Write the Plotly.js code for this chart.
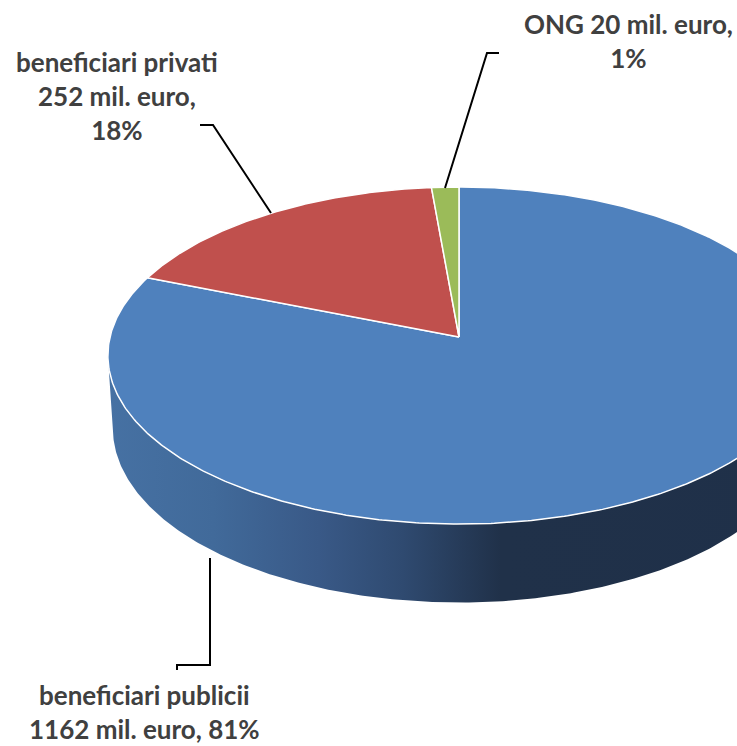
<!DOCTYPE html>
<html><head><meta charset="utf-8">
<script src="https://cdn.plot.ly/plotly-3.0.1.min.js"></script>
<style>html,body{margin:0;padding:0;background:#fff;overflow:hidden}</style>
</head><body><div id="chart" style="width:737px;height:746px"></div>
<script>
// ---- data ----
const categories = ['beneficiari publicii', 'beneficiari privati', 'ONG'];
const values = [1162, 252, 20];
const unit = 'mil. euro';

// ---- style ----
const topColors = ['#4F81BD', '#C0504D', '#9BBB59'];
const sideScales = [
  [[0,'#4671a3'],[0.15,'#416a9a'],[0.3,'#395987'],[0.42,'#2f4a70'],[0.56,'#203149'],[1,'#1f3049']],
  [[0,'#a94441'],[1,'#5e2221']],
  [[0,'#88a64d'],[1,'#4b5d2a']]
];
// 3D projection parameters (pixel space)
const CX = 459, CY = 337, A = 349, B = 166.5, K = 0.110;
const SINPHI = B / A, COSPHI = Math.sqrt(1 - SINPHI * SINPHI), R_D = K / COSPHI, ETA = 0.24;

function proj(thDeg, depth) {
  const t = thDeg * Math.PI / 180, s = Math.sin(t), c = Math.cos(t);
  const h = ETA * depth;
  const den = 1 + K * c + h * R_D * SINPHI;
  return [CX + A * s / den, CY - A * (c * SINPHI - h * COSPHI) / den];
}
function extremeAngle(depth, from, to, sign) {
  let best = from, bx = -Infinity;
  for (let a = from; a <= to; a += 0.05) {
    const x = sign * proj(a, depth)[0];
    if (x > bx) { bx = x; best = a; }
  }
  return best;
}
const tR = extremeAngle(0, 0, 180, 1), tL = extremeAngle(0, 180, 360, -1);
const bR = extremeAngle(1, 0, 180, 1), bL = extremeAngle(1, 180, 360, -1);

const total = values.reduce((a, b) => a + b, 0);
const pct = values.map(v => Math.round(100 * v / total));
const starts = [], ends = [];
let acc = 0;
values.forEach(v => { starts.push(360 * acc / total); acc += v; ends.push(360 * acc / total); });

function arc(a0, a1, depth) {
  const pts = [];
  const n = Math.max(2, Math.ceil(Math.abs(a1 - a0) / 0.5));
  for (let i = 0; i <= n; i++) pts.push(proj(a0 + (a1 - a0) * i / n, depth));
  return pts;
}

const traces = [];
// sides
values.forEach((v, i) => {
  const tLo = Math.max(starts[i], tR), tHi = Math.min(ends[i], tL);
  if (tHi <= tLo) return;
  const bLo = starts[i] > tR ? starts[i] : bR;
  const bHi = ends[i] < tL ? ends[i] : bL;
  const pts = arc(tLo, tHi, 0).concat(arc(bHi, bLo, 1));
  pts.push(pts[0]);
  traces.push({
    type: 'scatter', mode: 'lines', x: pts.map(p => p[0]), y: pts.map(p => p[1]),
    fill: 'toself', line: {width: 0, color: 'rgba(0,0,0,0)'},
    fillgradient: {type: 'horizontal', colorscale: sideScales[i]},
    hoverinfo: 'skip', showlegend: false
  });
});
// top faces
values.forEach((v, i) => {
  const pts = [[CX, CY]].concat(arc(starts[i], ends[i], 0));
  pts.push([CX, CY]);
  traces.push({
    type: 'scatter', mode: 'lines', x: pts.map(p => p[0]), y: pts.map(p => p[1]),
    fill: 'toself', fillcolor: topColors[i], line: {width: 1.5, color: '#ffffff'},
    name: categories[i], text: categories[i] + ': ' + v + ' ' + unit, hoverinfo: 'text', showlegend: false
  });
});

// labels
const labelTexts = [
  categories[0] + '<br>' + values[0] + ' ' + unit + ', ' + pct[0] + '%',
  categories[1] + '<br>' + values[1] + ' ' + unit + ',<br>' + pct[1] + '%',
  categories[2] + ' ' + values[2] + ' ' + unit + ',<br>' + pct[2] + '%'
];
const labelPos = [[144, 712], [117, 96], [628, 41]];
const font = {family: 'Lato, Carlito, Calibri, sans-serif', size: 26, color: '#404040', weight: 'bold'};
const annotations = labelTexts.map((t, i) => ({
  x: labelPos[i][0], y: labelPos[i][1], xref: 'x', yref: 'y', text: t,
  showarrow: false, xanchor: 'center', yanchor: 'middle', align: 'center', font: font
}));
const leader = {color: '#000000', width: 2};
const shapes = [
  {type: 'path', path: 'M 210 558 L 210 665 L 177 665 L 177 670', line: leader, xref: 'x', yref: 'y'},
  {type: 'path', path: 'M 200 125 L 213 125 L 271 213', line: leader, xref: 'x', yref: 'y'},
  {type: 'path', path: 'M 499 53 L 487 53 L 445 188', line: leader, xref: 'x', yref: 'y'}
];

Plotly.newPlot('chart', traces, {
  width: 737, height: 746, margin: {l: 0, r: 0, t: 0, b: 0},
  paper_bgcolor: '#ffffff', plot_bgcolor: '#ffffff',
  xaxis: {range: [0, 737], visible: false, fixedrange: true},
  yaxis: {range: [746, 0], visible: false, fixedrange: true},
  annotations: annotations, shapes: shapes, showlegend: false
}, {displayModeBar: false, staticPlot: true});
</script></body></html>
